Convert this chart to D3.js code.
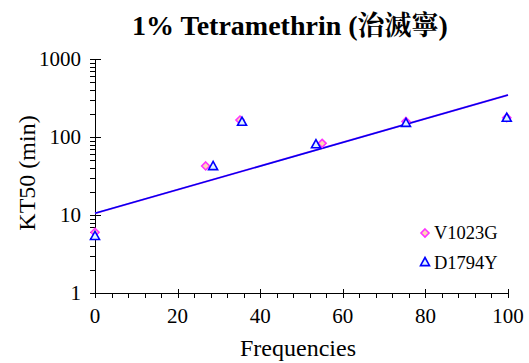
<!DOCTYPE html>
<html><head><meta charset="utf-8">
<script src="https://cdn.jsdelivr.net/npm/d3@7"></script>
<style>body{margin:0;background:#fff;}svg{display:block;}</style>
</head><body>
<svg id="c" width="529" height="363"></svg>
<script>
const titleLatin = "1% Tetramethrin (";
const titleCJK = "\u6cbb\u6ec5\u5be7";
const titleEnd = ")";
const xLabel = "Frequencies";
const yLabel = "KT50 (min)";
const xTicks = [0, 20, 40, 60, 80, 100];
const yTicks = [1, 10, 100, 1000];
const seriesNames = ["V1023G", "D1794Y"];
const v1023gX = [0, 26.8, 35.1, 55, 75.3, 99.7];
const v1023gY = [6.0, 42.5, 165, 83, 158, 177];
const d1794yX = [0, 28.6, 35.6, 53.5, 75.3, 99.7];
const d1794yY = [5.4, 42.5, 157, 81, 152, 177];
const trendX = [0, 100];
const trendY = [10.5, 345];

const SERIF = "Liberation Serif";
const svg = d3.select("#c");
const x = d3.scaleLinear().domain([0, 100]).range([95, 508]);
const y = d3.scaleLog().domain([1, 1000]).range([293, 59]);
const txt = (sel) => sel.attr("font-family", SERIF).attr("fill", "#000");

// title
const t = txt(svg.append("text")).attr("x", 290).attr("y", 35).attr("text-anchor", "middle")
  .attr("font-weight", "bold").attr("font-size", 28);
t.append("tspan").text(titleLatin);
t.append("tspan").attr("font-family", "Noto Serif CJK TC").attr("font-size", 27).text(titleCJK);
t.append("tspan").text(titleEnd);

const axisColor = "#000";
// y axis
const yAxis = svg.append("g");
yAxis.append("line").attr("x1", 95.5).attr("x2", 95.5).attr("y1", y(1000)).attr("y2", y(1)).attr("stroke", axisColor);
const yMinor = [];
for (let d = 1; d < 1000; d *= 10) for (let k = 2; k <= 9; k++) yMinor.push(d * k);
yAxis.selectAll(".ym").data(yMinor).join("line").attr("x1", 90).attr("x2", 95)
  .attr("y1", d => Math.round(y(d)) + 0.5).attr("y2", d => Math.round(y(d)) + 0.5).attr("stroke", axisColor);
yAxis.selectAll(".yM").data(yTicks).join("line").attr("x1", 90).attr("x2", 101)
  .attr("y1", d => Math.round(y(d)) + 0.5).attr("y2", d => Math.round(y(d)) + 0.5).attr("stroke", axisColor);
txt(yAxis.selectAll(".yl").data(yTicks).join("text")).attr("x", 81).attr("y", d => y(d) + 7)
  .attr("text-anchor", "end").attr("font-size", 21).text(d => d);

// x axis
const xAxis = svg.append("g");
xAxis.append("line").attr("x1", 90).attr("x2", x(100)).attr("y1", 293.5).attr("y2", 293.5).attr("stroke", axisColor);
const xMinor = d3.range(0, 101, 4).filter(v => v % 20 !== 0);
xAxis.selectAll(".xm").data(xMinor).join("line").attr("y1", 293).attr("y2", 298)
  .attr("x1", d => Math.round(x(d)) + 0.5).attr("x2", d => Math.round(x(d)) + 0.5).attr("stroke", axisColor);
xAxis.selectAll(".xM").data(xTicks).join("line").attr("y1", 289).attr("y2", 298)
  .attr("x1", d => Math.round(x(d)) + 0.5).attr("x2", d => Math.round(x(d)) + 0.5).attr("stroke", axisColor);
txt(xAxis.selectAll(".xl").data(xTicks).join("text")).attr("x", d => x(d)).attr("y", 323)
  .attr("text-anchor", "middle").attr("font-size", 21).text(d => d);

// labels
txt(svg.append("text")).attr("x", 298).attr("y", 356).attr("text-anchor", "middle")
  .attr("font-size", 24).text(xLabel);
txt(svg.append("text")).attr("transform", "translate(35,173) rotate(-90)").attr("text-anchor", "middle")
  .attr("font-size", 24).text(yLabel);

// trend line
const line = d3.line().x(d => x(d[0])).y(d => y(d[1]));
const trend = trendX.map((v, i) => [v, trendY[i]]);
svg.append("path").attr("d", line(trend)).attr("fill", "none").attr("stroke", "#ff66ff").attr("stroke-width", 2);
svg.append("path").attr("d", line(trend)).attr("fill", "none").attr("stroke", "#0000ee").attr("stroke-width", 1.6);

// markers
const diamond = (cx, cy, r) => `M${cx},${cy - r}L${cx + r},${cy}L${cx},${cy + r}L${cx - r},${cy}Z`;
const tri = (cx, cy, r) => `M${cx},${cy - r}L${cx + r},${cy + r * 0.8}L${cx - r},${cy + r * 0.8}Z`;
const pink = "#ff33ff", blue = "#0000ff";
svg.selectAll(".dv").data(v1023gX.map((v, i) => [v, v1023gY[i]])).join("path")
  .attr("d", d => diamond(x(d[0]), y(d[1]), 4)).attr("fill", "#ffd7b0").attr("stroke", pink).attr("stroke-width", 1.6);
svg.selectAll(".dd").data(d1794yX.map((v, i) => [v, d1794yY[i]])).join("path")
  .attr("d", d => tri(x(d[0]), y(d[1]), 4.5)).attr("fill", "#dff4ff").attr("stroke", blue).attr("stroke-width", 1.6);

// legend
const lg = svg.append("g");
lg.append("path").attr("d", diamond(425, 233, 4)).attr("fill", "#ffd7b0").attr("stroke", pink).attr("stroke-width", 1.6);
lg.append("path").attr("d", tri(425, 262, 4.5)).attr("fill", "#dff4ff").attr("stroke", blue).attr("stroke-width", 1.6);
txt(lg.selectAll(".lt").data(seriesNames).join("text")).attr("x", 434).attr("y", (d, i) => 239 + i * 30)
  .attr("font-size", 18.5).text(d => d);
</script>
</body></html>
